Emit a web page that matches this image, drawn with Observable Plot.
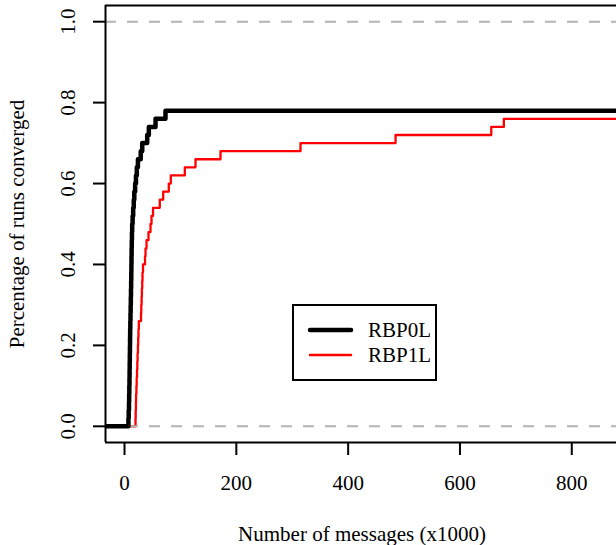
<!DOCTYPE html>
<html><head><meta charset="utf-8">
<script src="https://cdn.jsdelivr.net/npm/d3@7"></script>
<script src="https://cdn.jsdelivr.net/npm/@observablehq/plot@0.6"></script>
<style>
html,body{margin:0;padding:0;background:#fff;overflow:hidden}
#wrap{position:relative;width:616px;height:545px}
#legend{position:absolute;left:0;top:0;pointer-events:none}
</style></head><body><div id="wrap"></div>
<script>
// ---- data ----
const xDomain = [-34, 880];
const yDomain = [-0.04, 1.04];
const xTicks = [0, 200, 400, 600, 800];
const yTicks = [0, 0.2, 0.4, 0.6, 0.8, 1.0];
const refLines = [0, 1];
const xTitle = "Number of messages (x1000)";
const yTitle = "Percentage of runs converged";
const seriesNames = ["RBP0L", "RBP1L"];

// RBP0L (black) step knots
const rbp0X = [7,7.5,8,8.3,8.6,8.9,9.1,9.3,9.5,9.7,9.9,10.1,10.4,10.7,11,11.3,11.6,11.9,12.1,12.3,12.5,12.7,13,13.3,13.7,14.5,15.5,16.5,17.5,19,20.5,22,24,29,31.7,40.6,43.5,55.5,73.3];
const rbp0Y = [0.02,0.04,0.06,0.08,0.10,0.12,0.14,0.16,0.18,0.20,0.22,0.24,0.26,0.28,0.30,0.32,0.34,0.36,0.38,0.40,0.42,0.44,0.46,0.48,0.50,0.52,0.54,0.56,0.58,0.60,0.62,0.64,0.66,0.68,0.70,0.72,0.74,0.76,0.78];

// RBP1L (red) step knots
const rbp1X = [19.7,20,20.4,20.7,21.3,21.8,22.4,22.9,23.4,24,24.5,25,25.6,29.5,30,30.6,31.1,31.7,32.2,33.1,36.7,37.6,39.4,42.9,46.5,48.3,51,63.1,69.2,79.2,82.8,107.9,127,171.7,314.8,484.8,656,678.5];
const rbp1Y = [0.02,0.04,0.06,0.08,0.10,0.12,0.14,0.16,0.18,0.20,0.22,0.24,0.26,0.28,0.30,0.32,0.34,0.36,0.38,0.40,0.42,0.44,0.46,0.48,0.50,0.52,0.54,0.56,0.58,0.60,0.62,0.64,0.66,0.68,0.70,0.72,0.74,0.76];

function stepData(xs, ys) {
  const d = [{x: xDomain[0] - 50, y: 0}];
  xs.forEach((x, i) => d.push({x, y: ys[i]}));
  d.push({x: xDomain[1] + 50, y: ys[ys.length - 1]});
  return d;
}
const blackData = stepData(rbp0X, rbp0Y);
const redData = stepData(rbp1X, rbp1Y);

const chart = Plot.plot({
  width: 616, height: 545,
  marginLeft: 105, marginRight: 0, marginTop: 5, marginBottom: 103,
  style: {fontFamily: "'Liberation Serif', 'Times New Roman', serif", fontSize: "21px", background: "white", color: "black", overflow: "visible"},
  x: {domain: xDomain},
  y: {domain: yDomain},
  marks: [
    Plot.line(redData, {x: "x", y: "y", curve: "step-after", stroke: "#ff0000", strokeWidth: 2.3, clip: true}),
    Plot.ruleY(refLines, {stroke: "#b3b3b3", strokeWidth: 2, strokeDasharray: "11,11"}),
    Plot.line(blackData, {x: "x", y: "y", curve: "step-after", stroke: "black", strokeWidth: 4.5, clip: true}),
    Plot.ruleY([yDomain[1], yDomain[0]], {stroke: "black", strokeWidth: 2}),
    Plot.ruleX([xDomain[0]], {stroke: "black", strokeWidth: 2}),
    Plot.axisX({anchor: "bottom", ticks: xTicks, tickSize: 13, tickPadding: 20, strokeWidth: 2, label: null}),
    Plot.axisY({anchor: "left", ticks: yTicks, tickSize: 12, tickFormat: () => "", strokeWidth: 2, label: null}),
    Plot.text(yTicks, {y: d => d, text: d => d.toFixed(1), frameAnchor: "left", textAnchor: "middle", lineAnchor: "middle", dx: -37, rotate: -90}),
    Plot.text([yTitle], {text: d => d, frameAnchor: "left", textAnchor: "middle", lineAnchor: "middle", dx: -88, rotate: -90}),
    Plot.text([xTitle], {text: d => d, frameAnchor: "bottom", textAnchor: "middle", lineAnchor: "middle", dy: 92, dx: 1})
  ]
});
const wrap = document.getElementById("wrap");
wrap.appendChild(chart);

// legend (drawn outside Plot, overlaid)
const leg = d3.select(wrap).append("svg").attr("id", "legend").attr("width", 616).attr("height", 545)
  .style("font-family", "'Liberation Serif', 'Times New Roman', serif").style("font-size", "21px");
leg.append("rect").attr("x", 293).attr("y", 305).attr("width", 143).attr("height", 75)
  .attr("fill", "white").attr("stroke", "black").attr("stroke-width", 2);
const legItems = [
  {name: seriesNames[0], color: "black", w: 4.5, cy: 330},
  {name: seriesNames[1], color: "#ff0000", w: 2.5, cy: 355}
];
legItems.forEach(it => {
  leg.append("line").attr("x1", 310).attr("x2", 351).attr("y1", it.cy).attr("y2", it.cy)
    .attr("stroke", it.color).attr("stroke-width", it.w).attr("stroke-linecap", "round");
  leg.append("text").attr("x", 368).attr("y", it.cy + 7).text(it.name);
});
</script></body></html>
